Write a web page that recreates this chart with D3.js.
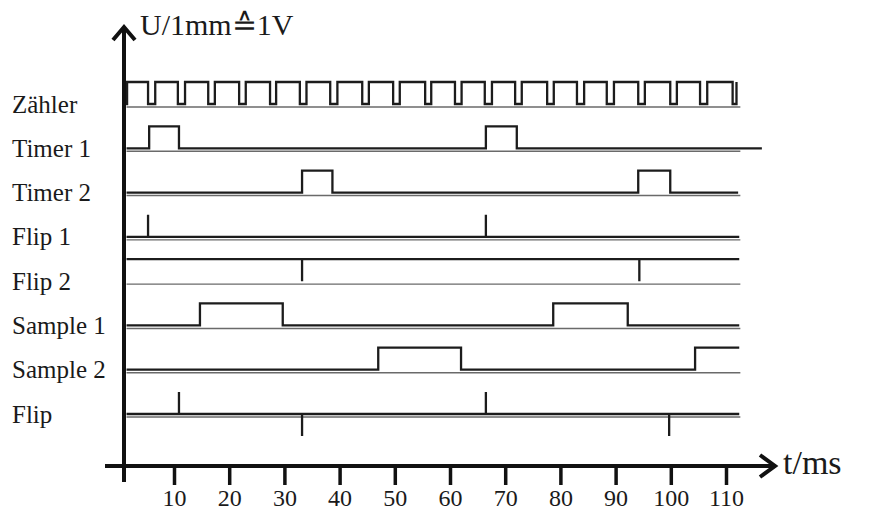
<html>
<head>
	<title>Zeitdiagramm</title>
	<script src="https://d3js.org/d3.v7.min.js"></script>
	<style type="text/css">
		body { margin: 0; background: #fff; }
		text { font-family: "Liberation Serif", "Times New Roman", "DejaVu Serif", serif; fill: #1a1a1a; }
	</style>
</head>
<body>
<div id="chart"></div>

<script type="text/javascript">
// signal names, top to bottom
var rows = ["Zähler", "Timer 1", "Timer 2", "Flip 1", "Flip 2", "Sample 1", "Sample 2", "Flip"];

// x axis ticks (ms)
var ticks = [10, 20, 30, 40, 50, 60, 70, 80, 90, 100, 110];

// Zähler: low phases [start, end] in ms
var counterLow = [[5.3, 6.6], [10.7, 12.0], [16.2, 17.4], [21.8, 23.0], [27.4, 28.5],
	[32.8, 34.0], [38.3, 39.6], [44.1, 45.3], [49.7, 50.9], [55.5, 56.6], [60.9, 62.1],
	[66.3, 67.6], [71.8, 73.0], [77.6, 78.8], [83.0, 84.3], [88.4, 89.7], [94.1, 95.3],
	[99.9, 101.1], [105.3, 106.6], [111.2, 111.9]];

// step signals as [time, level]
var timer1 = [[1.4, 0], [5.5, 1], [10.9, 0], [66.5, 1], [72.1, 0], [116.5, 0]];
var timer2 = [[1.4, 0], [33.2, 1], [38.7, 0], [94.1, 1], [99.9, 0], [112.2, 0]];
var flip1 = [[1.4, 0], [5.3, 0], [5.3, 1], [5.3, 0], [66.5, 0], [66.5, 1], [66.5, 0], [112.4, 0]];
var flip2 = [[1.4, 1], [33.2, 1], [33.2, 0], [33.2, 1], [94.3, 1], [94.3, 0], [94.3, 1], [112.4, 1]];
var sample1 = [[1.4, 0], [14.7, 1], [29.7, 0], [78.7, 1], [92.2, 0], [112.4, 0]];
var sample2 = [[1.4, 0], [47.0, 1], [62.0, 0], [104.4, 1], [112.4, 1]];
var flip = [[1.4, 0], [10.9, 0], [10.9, 1], [10.9, 0], [33.2, 0], [33.2, -1], [33.2, 0],
	[66.5, 0], [66.5, 1], [66.5, 0], [99.7, 0], [99.7, -1], [99.7, 0], [112.4, 0]];

// build the counter trace from its low phases
var counter = [[1.0, 0], [1.5, 1]];
counterLow.forEach(function(d) {
	counter.push([d[0], 0]);
	counter.push([d[1], 1]);
});

var signals = [counter, timer1, timer2, flip1, flip2, sample1, sample2, flip];

var svg = d3.select("#chart")
	.append("svg")
	.attr("width", 869)
	.attr("height", 510);

var x = d3.scaleLinear()
	.domain([0, 110])
	.range([118.8, 726]);

// y of the low level of each row
var row = d3.scalePoint()
	.domain(rows)
	.range([104, 414]);

var pulse = 22;

// baselines
svg.selectAll(".base")
	.data(rows)
	.enter().append("line")
	.attr("class", "base")
	.attr("x1", x(1.4))
	.attr("x2", x(112.6))
	.attr("y1", function(d) { return row(d) + 3; })
	.attr("y2", function(d) { return row(d) + 3; })
	.style("stroke", "#6a6a6a")
	.style("stroke-width", 1.4);

// traces
svg.selectAll(".trace")
	.data(signals)
	.enter().append("path")
	.attr("class", "trace")
	.attr("d", function(d, i) {
		var y0 = row(rows[i]);
		var y = d3.scaleLinear().domain([0, 1]).range([y0, y0 - pulse]);
		return d3.line()
			.x(function(p) { return x(p[0]); })
			.y(function(p) { return y(p[1]); })
			.curve(d3.curveStepAfter)(d);
	})
	.style("fill", "none")
	.style("stroke", "#1c1c1c")
	.style("stroke-width", 2.3);

// row labels
svg.selectAll(".label")
	.data(rows)
	.enter().append("text")
	.attr("class", "label")
	.attr("x", 12)
	.attr("y", function(d) { return row(d) + 8.5; })
	.style("font-size", "25px")
	.text(function(d) { return d; });

// x axis ticks and labels
var axis = svg.append("g")
	.attr("transform", "translate(0,466)")
	.call(d3.axisBottom(x).tickValues(ticks).tickSize(19).tickFormat(d3.format("d")));

axis.select(".domain").remove();
axis.selectAll(".tick line")
	.style("stroke", "#111")
	.style("stroke-width", 3.5);
axis.selectAll(".tick text")
	.attr("y", 40)
	.attr("dy", 0)
	.style("font-size", "24px")
	.style("font-family", "'Liberation Serif', serif")
	.style("fill", "#1a1a1a");

// axis lines with arrow heads
svg.append("line")
	.attr("x1", 124).attr("y1", 28)
	.attr("x2", 124).attr("y2", 482)
	.style("stroke", "#111").style("stroke-width", 4);
svg.append("line")
	.attr("x1", 105).attr("y1", 466)
	.attr("x2", 774).attr("y2", 466)
	.style("stroke", "#111").style("stroke-width", 4);
svg.append("path")
	.attr("d", "M113,40 L124,27 L135,40")
	.style("fill", "none").style("stroke", "#111").style("stroke-width", 4);
svg.append("path")
	.attr("d", "M760,455 L775,466 L760,477")
	.style("fill", "none").style("stroke", "#111").style("stroke-width", 4);

// axis titles
svg.append("text")
	.attr("x", 140)
	.attr("y", 35)
	.style("font-size", "30px")
	.text("U/1mm\u22591V");

svg.append("text")
	.attr("x", 783)
	.attr("y", 474)
	.style("font-size", "34px")
	.text("t/ms");
</script>
</body>
</html>
